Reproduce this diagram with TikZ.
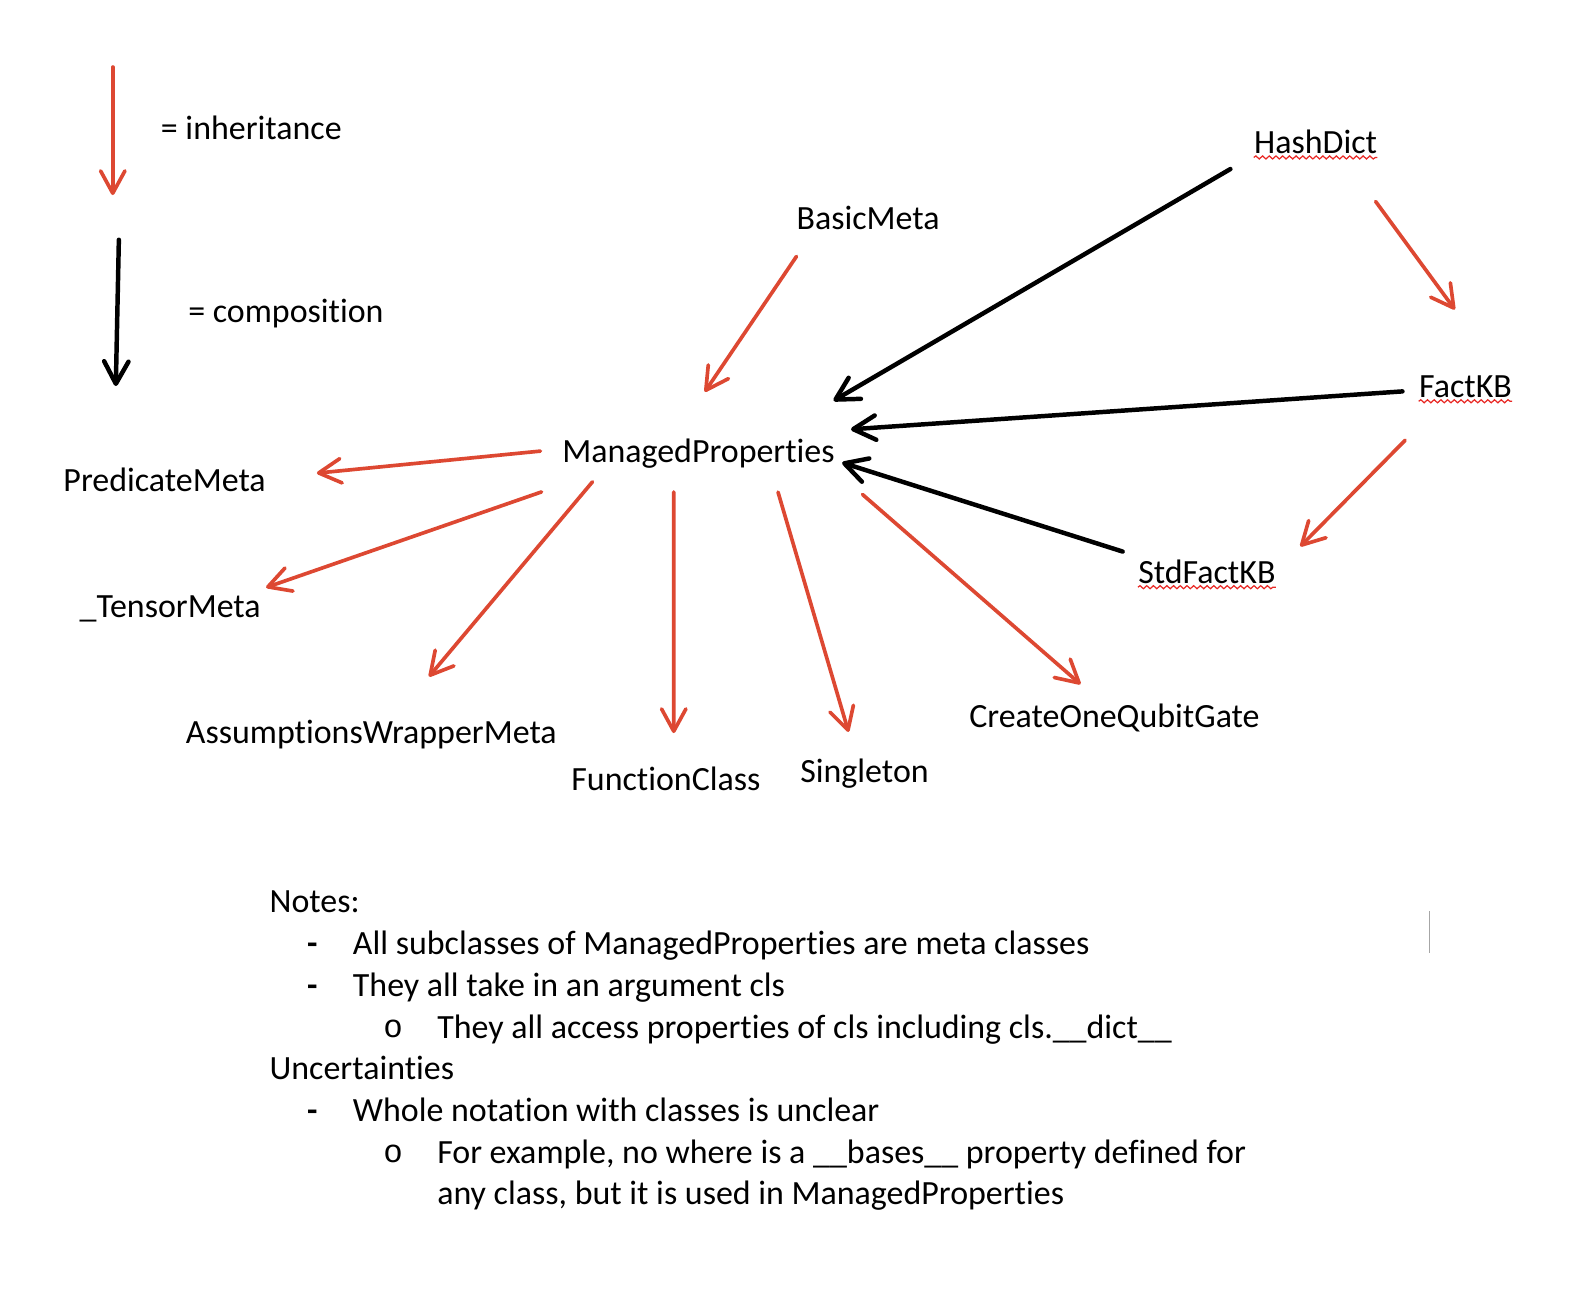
\documentclass[tikz,border=0pt]{standalone}
\usepackage{fontspec}
\setmainfont{Carlito}[Ligatures={NoCommon}]
\newfontfamily\bulletfont{Liberation Mono}
\usetikzlibrary{arrows.meta,decorations.pathmorphing}
\definecolor{inhred}{RGB}{221,72,50}
\definecolor{spellred}{RGB}{232,40,36}

\begin{document}
\begin{tikzpicture}[x=0.5pt,y=-0.5pt,font=\fontsize{16.7}{20}\selectfont]
    \tikzstyle{meta}=[inner sep=2pt,text height=12.5pt,text depth=4.2pt,anchor=base]
    \tikzstyle{annot}=[inner sep=0pt,anchor=base west]
    \tikzstyle{inh}=[draw=inhred,line width=1.8pt,line cap=round,-{Straight Barb[round,length=11pt,width=12pt]}]
    \tikzstyle{comp}=[draw=black,line width=2.2pt,line cap=round,-{Straight Barb[round,length=11pt,width=12pt]}]
    \tikzstyle{squig}=[draw=spellred,line width=0.6pt,decorate,decoration={snake,segment length=3.3pt,amplitude=0.75pt}]

    \useasboundingbox (0,0) rectangle (1571,1293);

    \node[annot] (inhLabel) at (158,137) {= inheritance};
    \node[annot] (compLabel) at (185,317) {= composition};
    \coordinate (inhTop) at (111,66);
    \coordinate (inhEnd) at (111,192);
    \coordinate (compTop) at (117,236);
    \coordinate (compEnd) at (114,380);
    \draw[inh] (inhTop) -- (inhEnd);
    \draw[comp] (compTop) -- (compEnd);

    \node[meta] (basic) at (854.5,226) {BasicMeta};
    \node[meta] (hash) at (1295,151) {HashDict};
    \node[meta] (fact) at (1442.5,391) {FactKB};
    \node[meta] (mp) at (687.5,455.5) {ManagedProperties};
    \node[meta] (pred) at (162,484) {PredicateMeta};
    \node[meta] (tensor) at (167.5,608) {\_TensorMeta};
    \node[meta] (std) at (1188,574) {StdFactKB};
    \node[meta] (assum) at (365.5,732) {AssumptionsWrapperMeta};
    \node[meta] (func) at (655.5,778) {FunctionClass};
    \node[meta] (single) at (851,770) {Singleton};
    \node[meta] (qubit) at (1097,716) {CreateOneQubitGate};

    \foreach \n in {hash,fact,std}
        \draw[squig] ([xshift=2pt,yshift=-2pt]\n.base west) -- ([xshift=-2pt,yshift=-2pt]\n.base east);

    \draw[inh,shorten <=8.2pt,shorten >=24.4pt] (basic.-161.4) -- (mp.135);
    \draw[inh,shorten <=21.4pt,shorten >=35.3pt] (hash.-32.3) -- (fact.34.6);
    \draw[inh,shorten <=20.8pt,shorten >=14.3pt] (fact.-145.8) -- (std.6.1);

    \foreach \dest/\from/\to/\sa/\sb in {pred/178.5/3.5/8.6/23.1, tensor/-169.2/north east/24.3/0.5, assum/-168.8/39.4/3.9/23.9, func/-139.7/70.1/8/13.5, single/-16.2/115.8/8.4/10.5, qubit/-8.55/131/15.3/10}
        \draw[inh,shorten <=\sa pt,shorten >=\sb pt] (mp.\from) -- (\dest.\to);

    \draw[comp,shorten <=11pt,shorten >=31.4pt] (hash.-169.1) -- (mp.15.2);
    \draw[comp,shorten <=6pt,shorten >=25.5pt] (fact.-178.3) -- (mp.12.6);
    \draw[comp,shorten <=5.8pt,shorten >=1.6pt] (std.165.1) -- (mp.-3.1);

    \node[annot] (notes) at (265,898) {Notes:};
    \node[annot] (uncert) at (265,1063) {Uncertainties};
    \foreach \name/\y/\t in {a/940/All subclasses of ManagedProperties are meta classes, b/981/They all take in an argument cls, c/1104/Whole notation with classes is unclear}
        {\node[annot] (dash-\name) at (302,\y) {\textbf{-}};
         \node[annot] (item-\name) at (347,\y) {\t};}
    \node[annot] (circ-a) at (377,1021) {\bulletfont\fontsize{16}{18}\selectfont o};
    \node[annot] (sub-a) at (430,1022) {They all access properties of cls including cls.\_\_dict\_\_};
    \node[annot] (circ-b) at (377,1144) {\bulletfont\fontsize{16}{18}\selectfont o};
    \node[annot] (sub-b) at (430,1145) {For example, no where is a \_\_bases\_\_ property defined for};
    \node[annot] (sub-c) at (430,1186) {any class, but it is used in ManagedProperties};

    \draw[gray!70,line width=0.8pt] (1407,897) -- (1407,938);
\end{tikzpicture}
\end{document}
